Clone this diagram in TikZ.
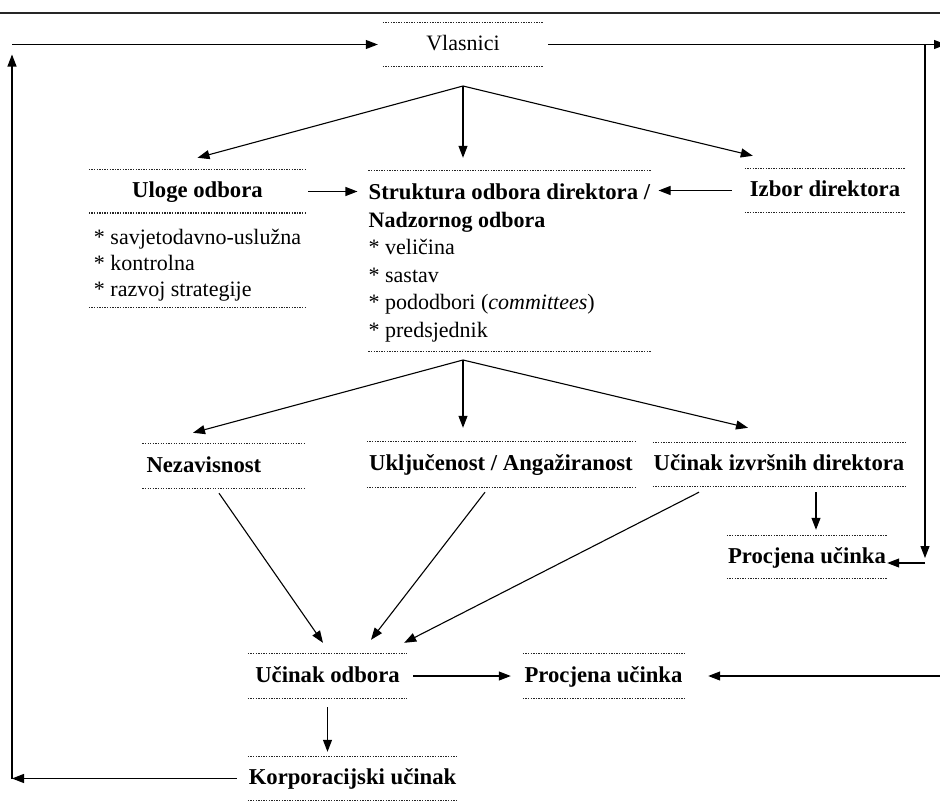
\documentclass[tikz,border=0pt]{standalone}
\usepackage{fontspec}
\setmainfont{Liberation Serif}
\usetikzlibrary{arrows.meta}

\begin{document}
\begin{tikzpicture}[x=1pt, y=-1pt]
  \useasboundingbox (0,0) rectangle (940,803);
  \draw[line width=2pt, black!85] (0,12.5) -- (940,12.5);

  \tikzstyle{box}=[inner xsep=0pt, inner ysep=0pt, font=\fontsize{22}{26}\selectfont]
  \tikzstyle{title}=[box, text height=16pt, text depth=4pt, font=\fontsize{22.7}{27.5}\selectfont\bfseries]
  \tikzstyle{dotline}=[line width=0.8pt, dash pattern=on 1.3pt off 1.3pt, black!85]
  \tikzstyle{arr}=[-{Triangle[length=12pt,width=9pt]}, line width=1.1pt]

  \node[box, text height=16pt, text depth=4pt, minimum width=160pt, minimum height=43pt] (vlasnici) at (463,44.5) {Vlasnici};
  \node[title, minimum width=217pt, minimum height=43pt] (ulogeT) at (197.5,191.5) {Uloge odbora};
  \node[box, minimum width=217pt, minimum height=94pt, align=left] (ulogeL) at (197.5,260)
    {\rule{0pt}{26pt}{*} savjetodavno-uslužna\\{*} kontrolna\\{*} razvoj strategije};
  \node[box, minimum width=281pt, minimum height=180pt, align=left,
    font=\fontsize{22}{27.5}\selectfont] (struktura) at (509.5,261)
    {\rule{0pt}{20pt}\fontsize{22.7}{27.5}\selectfont\textbf{Struktura odbora direktora /}\\
     \textbf{Nadzornog odbora}\\{*} veličina\\{*} sastav\\
     {*} pododbori (\textit{committees})\\{*} predsjednik};
  \node[title, minimum width=160pt, minimum height=43pt] (izbor) at (825,190.5) {Izbor direktora};
  \node[title, text width=153pt, inner xsep=4pt, minimum height=44pt, align=left] (nezav) at (223,466) {Nezavisnost};
  \node[title, minimum width=268pt, minimum height=45pt] (uklj) at (501,464.5) {Uključenost / Angažiranost};
  \node[title, minimum width=252pt, minimum height=43pt] (izvrsni) at (779,464.5) {Učinak izvršnih direktora};
  \node[title, minimum width=160pt, minimum height=42pt] (procjenaR) at (807,557) {Procjena učinka};
  \node[title, minimum width=159pt, minimum height=44pt] (ucinak) at (327.5,676) {Učinak odbora};
  \node[title, minimum width=161pt, minimum height=44pt] (procjenaL) at (603.5,676) {Procjena učinka};
  \node[title, minimum width=209pt, minimum height=43pt] (korp) at (352.5,778.5) {Korporacijski učinak};

  % dotted rules above and below each box
  \foreach \n in {vlasnici, ulogeT, ulogeL, struktura, izbor, nezav, uklj, izvrsni, procjenaR, ucinak, procjenaL, korp}
    \draw[dotline] (\n.north west) -- (\n.north east) (\n.south west) -- (\n.south east);

  \coordinate (vapex) at (463,86);
  \coordinate (sapex) at (463,360);
  \coordinate (ltop) at (12,44.5);
  \coordinate (lbot) at (12,778.5);
  \coordinate (rtop) at (925,44.5);
  \coordinate (rend) at (946,44.5);
  \coordinate (rbot) at (925,563);
  \coordinate (rend2) at (940,676);

  \draw[arr] (vapex) -- ([yshift=12pt]ulogeT.north);
  \draw[arr, shorten >=13pt] (vapex) -- (vapex |- struktura.north);
  \draw[arr] (vapex) -- ([xshift=8pt,yshift=13pt]izbor.north west);
  \draw[arr, shorten <=2pt, shorten >=11pt] (ulogeT.east) -- (ulogeT.east -| struktura.west);
  \draw[arr, shorten <=13pt, shorten >=8pt] (izbor.west) -- (izbor.west -| struktura.east);

  \draw[arr] (sapex) -- ([xshift=-30pt,yshift=11pt]nezav.north);
  \draw[arr, shorten >=14pt] (sapex) -- (sapex |- uklj.north);
  \draw[arr] (sapex) -- ([xshift=-31pt,yshift=15pt]izvrsni.north);

  \draw[arr] ([xshift=-4pt,yshift=-5pt]nezav.south) -- ([xshift=-4.5pt,yshift=11pt]ucinak.north);
  \draw[arr] ([xshift=-16pt,yshift=-5pt]uklj.south) -- ([xshift=43.5pt,yshift=14pt]ucinak.north);
  \draw[arr] ([xshift=-80pt,yshift=-6pt]izvrsni.south) -- ([xshift=-3pt,yshift=11pt]ucinak.north east);
  \draw[arr] ([xshift=37pt,yshift=-6pt]izvrsni.south) -- ([xshift=9pt,yshift=6pt]procjenaR.north);

  \draw[arr, shorten <=6pt, shorten >=12pt] (ucinak.east) -- (procjenaL.west);
  \draw[arr, shorten <=9pt, shorten >=5pt] (ucinak.south) -- (ucinak.south |- korp.north);
  \draw[arr, shorten >=24pt] (rend2) -- (procjenaL.east);

  % feedback loops
  \draw[arr, shorten <=5pt] (vlasnici.east) -- (rend);
  \draw[arr] (rtop) -- ([yshift=5pt]rbot);
  \draw[arr] (rbot) -- (rbot -| procjenaR.east);
  \draw[arr, shorten <=11pt] (korp.west) -- (lbot);
  \draw[arr, shorten >=10pt] (lbot) -- (ltop);
  \draw[arr, shorten >=5pt] (ltop) -- (vlasnici.west);
\end{tikzpicture}
\end{document}
